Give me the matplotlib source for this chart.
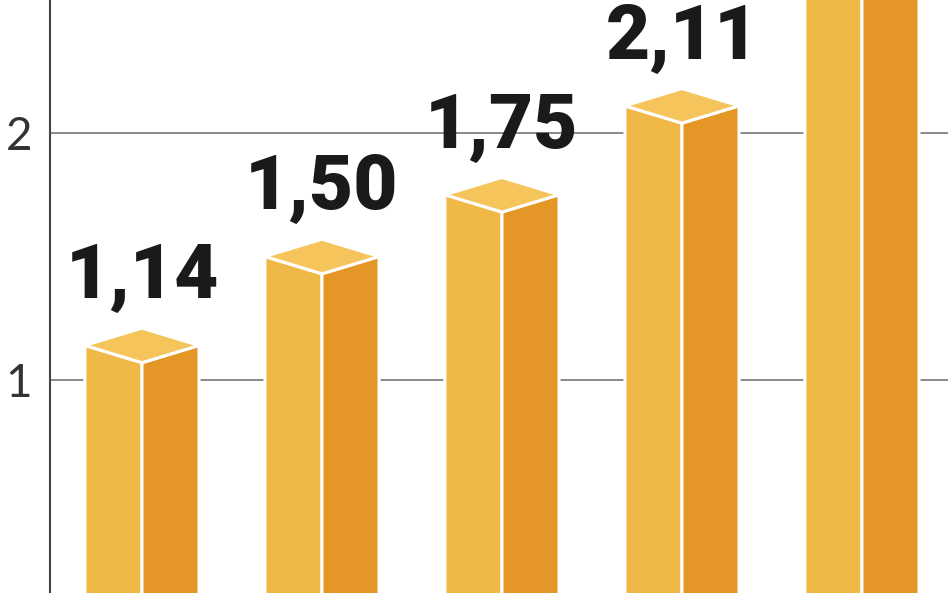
import matplotlib.pyplot as plt
from matplotlib.patches import Polygon

# data
years = ["2011", "2012", "2013", "2014", "2015"]
values = [1.14, 1.50, 1.75, 2.11, 2.70]
labels = ["1,14", "1,50", "1,75", "2,11", "2,70"]
yticks = [1, 2]

c_left = "#F0B846"
c_right = "#E49627"
c_top = "#F5C55C"

fig = plt.figure(figsize=(9.48, 5.93), dpi=100)
ax = fig.add_axes([50 / 948, 0, 898 / 948, 1])

half_w = 0.317   # half width of a bar (x units)
depth = 0.07     # half height of the top diamond (y units)

for i, v in enumerate(values):
    left = [(i - half_w, 0), (i - half_w, v), (i, v - depth), (i, 0)]
    right = [(i, 0), (i, v - depth), (i + half_w, v), (i + half_w, 0)]
    top = [(i - half_w, v), (i, v + depth), (i + half_w, v), (i, v - depth)]
    for pts, col in [(left, c_left), (right, c_right), (top, c_top)]:
        ax.add_patch(Polygon(pts, closed=True, facecolor=col, edgecolor="white",
                             linewidth=2.2, joinstyle="miter", zorder=3))
    ax.annotate(labels[i], (i, v), xytext=(0, 34), textcoords="offset points",
                ha="center", va="baseline", fontsize=55, fontweight="black",
                family=["Roboto", "DejaVu Sans"], color="#1a1a1a", zorder=4,
                annotation_clip=True)

ax.set_xlim(-0.511, 4.478)
ax.set_ylim(0.1377, 2.5385)
ax.set_yticks(yticks)
ax.set_yticklabels([str(t) for t in yticks], fontsize=33, fontweight="normal",
                   family=["Lato", "DejaVu Sans"], color="#333333")
ax.set_xticks([])
ax.tick_params(axis="y", length=0, pad=13)
ax.grid(axis="y", color="#8a8a8a", linewidth=1.4, zorder=1)
ax.set_axisbelow(True)
for s in ["top", "right", "bottom"]:
    ax.spines[s].set_visible(False)
ax.spines["left"].set_color("#444444")
ax.spines["left"].set_linewidth(1.5)

fig.savefig("out.png", dpi=100)
